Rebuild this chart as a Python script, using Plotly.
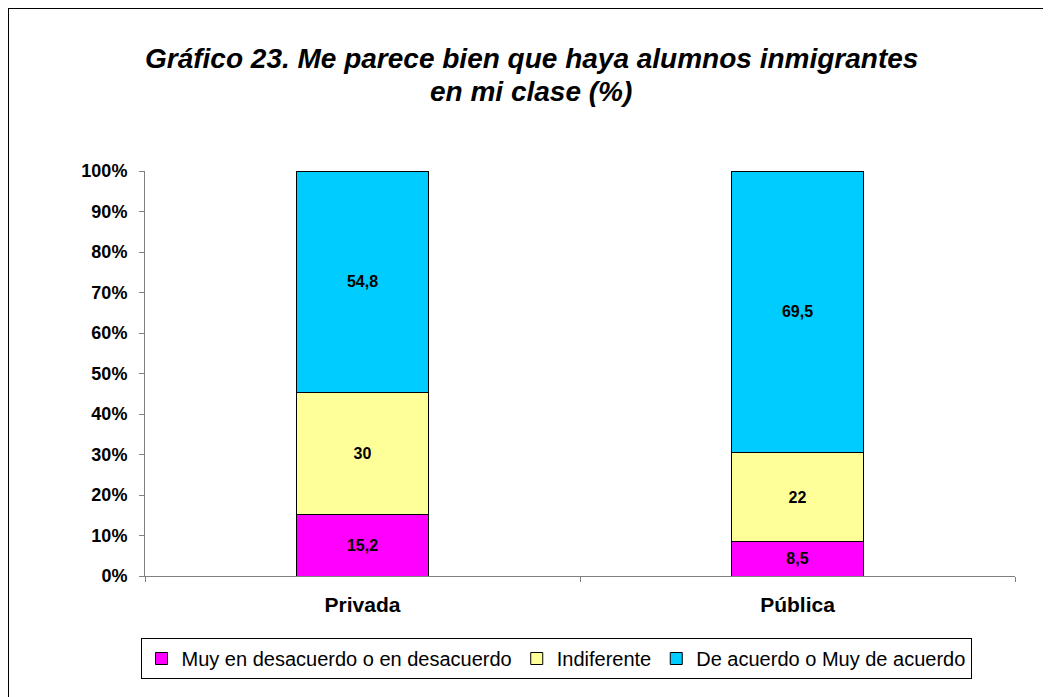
import plotly.graph_objects as go

categories = ["Privada", "Pública"]
series_names = ["Muy en desacuerdo o en desacuerdo", "Indiferente", "De acuerdo o Muy de acuerdo"]
desacuerdo = [15.2, 8.5]
indiferente = [30, 22]
acuerdo = [54.8, 69.5]
colors = ["#FF00FF", "#FFFF99", "#00CCFF"]
y_ticks = [0, 10, 20, 30, 40, 50, 60, 70, 80, 90, 100]
title_lines = ["Gráfico 23. Me parece bien que haya alumnos inmigrantes", "en mi clase (%)"]

FONT = "Liberation Sans, Arial"

def fmt(v):
    return ("%g" % v).replace(".", ",")

fig = go.Figure()
for name, vals, col in zip(series_names, [desacuerdo, indiferente, acuerdo], colors):
    fig.add_trace(go.Bar(
        x=categories, y=vals, name=name,
        marker=dict(color=col, line=dict(color="black", width=1)),
        text=[fmt(v) for v in vals], textposition="inside", insidetextanchor="middle",
        textfont=dict(family=FONT, size=16, color="black", weight="bold"),
        width=0.303,
    ))

# page has an 8px body margin; figure is sized to fit the 1051x697 window
W, H = 1043, 689
l, r, t, b = 137, 36, 163, 121
pw, ph = W - l - r, H - t - b

def px_x(px):
    return (px - l) / pw

def px_y(py):
    return (H - b - py) / ph

annotations = []
for line, ypx in zip(title_lines, [50, 84]):
    annotations.append(dict(
        text=line, xref="paper", yref="paper", x=px_x(523), y=px_y(ypx),
        xanchor="center", yanchor="middle", showarrow=False,
        font=dict(family=FONT, size=28, color="black", style="italic", weight="bold"),
    ))

fig.update_layout(
    width=W, height=H,
    margin=dict(l=l, r=r, t=t, b=b),
    barmode="stack",
    plot_bgcolor="white", paper_bgcolor="white",
    font=dict(family=FONT, color="black"),
    annotations=annotations,
    showlegend=True,
    legend=dict(
        orientation="h", x=px_x(548), xanchor="center",
        y=px_y(630), yanchor="top",
        bordercolor="black", borderwidth=1,
        font=dict(family=FONT, size=20, color="black"),
        traceorder="normal", itemwidth=30,
    ),
    xaxis=dict(
        showline=True, linecolor="#808080", linewidth=1,
        ticks="outside", tickson="boundaries", ticklen=5, tickcolor="#808080",
        ticklabelstandoff=10,
        tickfont=dict(family=FONT, size=21, color="black", weight="bold"),
        showgrid=False,
    ),
    yaxis=dict(
        range=[0, 100], tickvals=y_ticks, ticktext=[f"{v}%" for v in y_ticks],
        showline=True, linecolor="#808080", linewidth=1,
        ticks="outside", ticklen=5, tickcolor="#808080",
        ticklabelstandoff=8,
        tickfont=dict(family=FONT, size=18, color="black", weight="bold"),
        showgrid=False, zeroline=False,
    ),
    shapes=[dict(
        type="rect", xref="paper", yref="paper",
        x0=px_x(0), x1=px_x(1080),
        y0=px_y(720), y1=px_y(0),
        line=dict(color="black", width=2), fillcolor="rgba(0,0,0,0)", layer="below",
    )],
)

fig.write_html("out.html")
